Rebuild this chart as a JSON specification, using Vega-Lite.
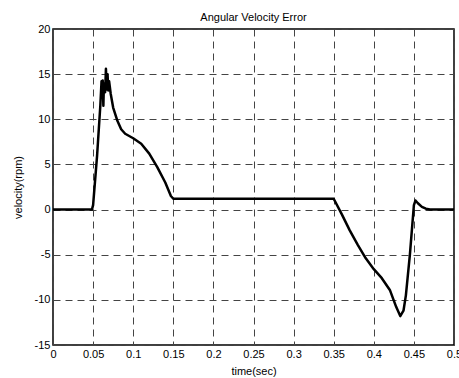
{
  "$schema": "https://vega.github.io/schema/vega-lite/v6.json",
  "width": 401,
  "height": 316,
  "autosize": {"type": "none"},
  "padding": {"left": 53, "top": 29, "right": 5, "bottom": 33},
  "background": "white",
  "title": {"text": "Angular Velocity Error", "font": "Liberation Sans", "fontSize": 11, "fontWeight": "normal", "color": "black", "offset": 0},
  "config": {
    "view": {"stroke": "black", "strokeWidth": 1.5},
    "axis": {
      "labelFont": "Liberation Sans", "labelFontSize": 11, "labelColor": "black",
      "titleFont": "Liberation Sans", "titleFontSize": 11, "titleFontWeight": "normal", "titleColor": "black",
      "grid": true, "gridColor": "#444", "gridDash": [7, 5], "gridWidth": 1, "gridOpacity": 1,
      "domain": false, "ticks": false
    }
  },
  "data": {"values": [
    {"time": 0, "velocity": 0},
    {"time": 0.0485, "velocity": 0},
    {"time": 0.05, "velocity": 0.5},
    {"time": 0.055, "velocity": 6},
    {"time": 0.059, "velocity": 11.5},
    {"time": 0.0605, "velocity": 14.2},
    {"time": 0.0615, "velocity": 13.2},
    {"time": 0.062, "velocity": 14.3},
    {"time": 0.0628, "velocity": 11.5},
    {"time": 0.0635, "velocity": 14.0},
    {"time": 0.065, "velocity": 13.0},
    {"time": 0.066, "velocity": 15.6},
    {"time": 0.067, "velocity": 13.3},
    {"time": 0.068, "velocity": 15.0},
    {"time": 0.069, "velocity": 13.2},
    {"time": 0.07, "velocity": 14.2},
    {"time": 0.072, "velocity": 12.8},
    {"time": 0.075, "velocity": 11.3},
    {"time": 0.08, "velocity": 9.9},
    {"time": 0.085, "velocity": 8.9},
    {"time": 0.09, "velocity": 8.4},
    {"time": 0.1, "velocity": 7.9},
    {"time": 0.11, "velocity": 7.3},
    {"time": 0.12, "velocity": 6.2},
    {"time": 0.13, "velocity": 4.7},
    {"time": 0.14, "velocity": 3.0},
    {"time": 0.147, "velocity": 1.5},
    {"time": 0.15, "velocity": 1.2},
    {"time": 0.35, "velocity": 1.2},
    {"time": 0.36, "velocity": -0.5},
    {"time": 0.37, "velocity": -2.3},
    {"time": 0.38, "velocity": -3.9},
    {"time": 0.39, "velocity": -5.4},
    {"time": 0.4, "velocity": -6.6},
    {"time": 0.41, "velocity": -7.6},
    {"time": 0.42, "velocity": -8.9},
    {"time": 0.428, "velocity": -10.8},
    {"time": 0.433, "velocity": -11.8},
    {"time": 0.437, "velocity": -11.2},
    {"time": 0.44, "velocity": -9.5},
    {"time": 0.445, "velocity": -5},
    {"time": 0.45, "velocity": 0.5},
    {"time": 0.452, "velocity": 1.0},
    {"time": 0.455, "velocity": 0.7},
    {"time": 0.46, "velocity": 0.3},
    {"time": 0.465, "velocity": 0.1},
    {"time": 0.47, "velocity": 0},
    {"time": 0.5, "velocity": 0}
  ]},
  "mark": {"type": "line", "color": "black", "strokeWidth": 2.5, "strokeJoin": "round"},
  "encoding": {
    "x": {"field": "time", "type": "quantitative", "scale": {"domain": [0, 0.5], "nice": false},
      "axis": {"title": "time(sec)", "values": [0, 0.05, 0.1, 0.15, 0.2, 0.25, 0.3, 0.35, 0.4, 0.45, 0.5], "labelExpr": "datum.value + ''", "labelPadding": 3, "titlePadding": 6, "labelFlush": false, "labelOverlap": false}},
    "y": {"field": "velocity", "type": "quantitative", "scale": {"domain": [-15, 20], "nice": false, "zero": false},
      "axis": {"title": "velocity(rpm)", "values": [-15, -10, -5, 0, 5, 10, 15, 20], "labelExpr": "datum.value + ''", "labelPadding": 3, "titlePadding": 11, "labelFlush": false}}
  }
}
